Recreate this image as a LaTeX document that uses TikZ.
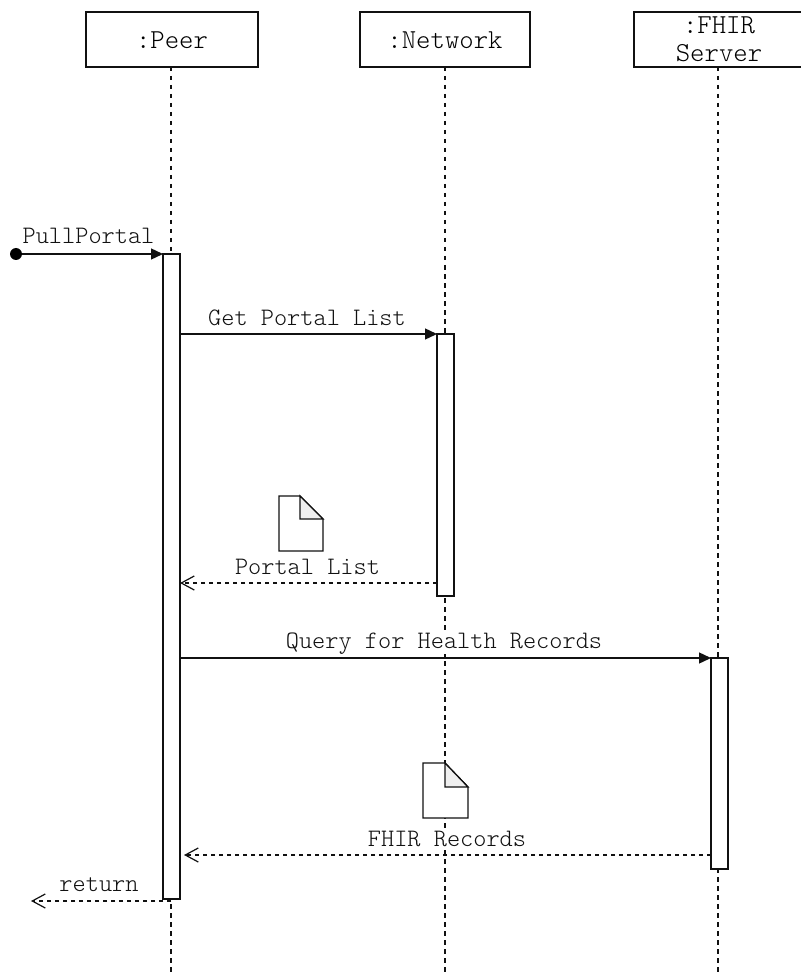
\documentclass[tikz,border=0pt]{standalone}
\usepackage{fontspec}
\setmonofont{Latin Modern Mono Light}
\usetikzlibrary{arrows.meta}
\definecolor{ink}{HTML}{111111}
\definecolor{foldc}{HTML}{EFEFEF}
\tikzset{
  x=1pt,y=-1pt,
  lbl/.style={anchor=base,inner sep=0pt,fill=white,text=ink,font=\ttfamily\fontsize{25.1}{27}\selectfont},
  head/.style={draw=ink,line width=1.3pt,fill=white,inner sep=0pt,outer sep=0pt,minimum height=55pt,align=center,font=\ttfamily\fontsize{27.4}{28}\selectfont},
  headone/.style={head,text height=18.4pt,text depth=0pt},
  lifeline/.style={draw=ink,line width=1.2pt,dash pattern=on 4.5pt off 4.5pt},
  bar/.style={draw=ink,line width=1.3pt,fill=white,inner sep=0pt,outer sep=0pt,minimum width=17pt},
  msg/.style={draw=ink,line width=1.3pt,-{Triangle[length=12pt,width=11pt]}},
  reply/.style={draw=ink,line width=1.2pt,dash pattern=on 4.5pt off 3.5pt,-{Straight Barb[length=13pt,width=14pt]}},
  docbody/.style={draw=ink,line width=1.3pt,fill=white,line join=miter},
  docfold/.style={draw=ink,line width=1.3pt,fill=foldc,line join=miter},
  dotstart/.style={circle,fill=black,inner sep=0pt,minimum size=12pt,outer sep=0pt},
}
\begin{document}
\begin{tikzpicture}
\useasboundingbox (0,0) rectangle (800,973);
% headers
\node[headone,minimum width=172pt] (peer) at (172,39.5) {:Peer};
\node[headone,minimum width=170pt] (net) at (445,39.5) {:Network};
\node[head,minimum width=170pt] (fhir) at (719,39.5) {:FHIR\\Server};
% lifeline ends
\coordinate (peerEnd) at (171,973);
\coordinate (netEnd) at (445,973);
\coordinate (fhirEnd) at (718,973);
\draw[lifeline] (peer.south -| peerEnd) -- (peerEnd);
\draw[lifeline] (net.south -| netEnd) -- (netEnd);
\draw[lifeline] (fhir.south -| fhirEnd) -- (fhirEnd);
% activation bars
\node[bar,minimum height=645pt] (peerbar) at (171.5,576.5) {};
\node[bar,minimum height=262pt] (netbar) at (445.5,465) {};
\node[bar,minimum height=211pt] (fhirbar) at (719.5,763.5) {};
% free ends
\node[dotstart] (start) at (16,254) {};
\coordinate (portalY) at (0,583);
\coordinate (recY) at (0,855);
\coordinate (recEnd) at (184,855);
\coordinate (retEnd) at (31,901);
\coordinate (retStart) at (171,901);
% messages
\draw[msg] (start) -- (peerbar.north west);
\draw[msg] (peerbar.east |- netbar.north west) -- (netbar.north west);
\draw[reply] (netbar.west |- portalY) -- (peerbar.east |- portalY);
\draw[msg] (peerbar.east |- fhirbar.north west) -- (fhirbar.north west);
\draw[reply] (fhirbar.west |- recY) -- (recEnd);
\draw[reply] (retStart) -- (retEnd);
% labels
\node[lbl] (l1) at (88.5,243.5) {PullPortal};
\node[lbl] (l2) at (307,325) {Get Portal List};
\node[lbl] (l3) at (307.5,574) {Portal List};
\node[lbl] (l4) at (444,648) {Query for Health Records};
\node[lbl] (l5) at (447,846) {FHIR Records};
\node[lbl] (l6) at (99,891) {return};
% documents
\draw[docbody] (279,496) -- (300,496) -- (323,519) -- (323,551) -- (279,551) -- cycle;
\draw[docfold] (300,496) -- (323,519) -- (300,519) -- cycle;
\draw[docbody] (423,763) -- (445,763) -- (468,787) -- (468,818) -- (423,818) -- cycle;
\draw[docfold] (445,763) -- (468,787) -- (445,787) -- cycle;
\end{tikzpicture}
\end{document}
